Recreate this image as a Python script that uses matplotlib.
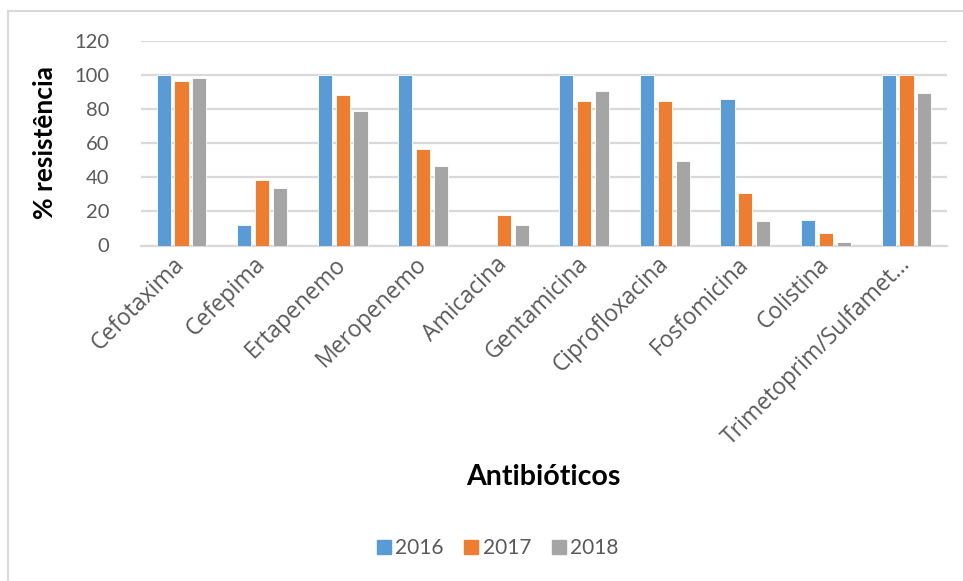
import numpy as np
import matplotlib.pyplot as plt
from matplotlib.lines import Line2D

# --- data ---
antibioticos = ['Cefotaxima', 'Cefepima', 'Ertapenemo', 'Meropenemo', 'Amicacina',
                'Gentamicina', 'Ciprofloxacina', 'Fosfomicina', 'Colistina',
                'Trimetoprim/Sulfamet\u2026']
anos = ['2016', '2017', '2018']
res_2016 = [100, 12.3, 100, 100, 0, 100, 100, 85.7, 15.2, 100]
res_2017 = [96.1, 38.3, 88.3, 56.4, 18.0, 84.6, 84.6, 30.5, 7.6, 100]
res_2018 = [98.0, 33.6, 78.7, 46.3, 12.3, 90.8, 49.8, 14.1, 1.8, 89.3]
yticks = [0, 20, 40, 60, 80, 100, 120]

cores = ['#5B9BD5', '#ED7D31', '#A5A5A5']
cinza_texto = '#595959'
grade = '#D9D9D9'

fig = plt.figure(figsize=(9.63, 5.81), dpi=100)
ax = fig.add_axes([141.2 / 963, 1 - 245.5 / 581, (946.8 - 141.2) / 963, (245.5 - 40.7) / 581])

x = np.arange(len(antibioticos))
largura = 0.175
passo = 0.222
for i, (serie, cor, ano) in enumerate(zip([res_2016, res_2017, res_2018], cores, anos)):
    ax.bar(x + (i - 1) * passo, serie, width=largura, color=cor, label=ano,
           edgecolor='white', linewidth=0.6, zorder=3)

ax.set_xlim(-0.5, len(antibioticos) - 0.5)
ax.set_ylim(0, 120)
ax.set_yticks(yticks)
ax.yaxis.grid(True, color=grade, linewidth=1.6, zorder=0)
for s in ['top', 'right', 'left']:
    ax.spines[s].set_visible(False)
ax.spines['bottom'].set_color(grade)
ax.spines['bottom'].set_linewidth(1.6)
ax.tick_params(axis='both', length=0)
ax.tick_params(axis='y', labelsize=14.5, labelcolor=cinza_texto, pad=23)
for lbl in ax.get_yticklabels():
    lbl.set_fontfamily('Lato')

ax.set_xticks(x)
ax.set_xticklabels(antibioticos, rotation=45, ha='right', va='center',
                   rotation_mode='anchor', fontsize=16.5, color=cinza_texto,
                   fontfamily='Open Sans')
ax.tick_params(axis='x', pad=11)

fig.text(45 / 963, 1 - 142 / 581, '% resistência', rotation=90, ha='center', va='center',
         fontsize=19, fontweight='bold', fontfamily='Lato', color='black')
fig.text(543.5 / 963, 1 - 477 / 581, 'Antibióticos', ha='center', va='center',
         fontsize=20.5, fontweight='bold', fontfamily='Lato', color='black')

handles = [Line2D([0], [0], marker='s', linestyle='none', markersize=10,
                  markerfacecolor=c, markeredgecolor=c) for c in cores]
leg = fig.legend(handles, anos, loc='center', bbox_to_anchor=(497 / 963, 1 - 548 / 581),
                 ncol=3, frameon=False, handlelength=0.8, handletextpad=0.17,
                 columnspacing=0.9, prop={'family': 'Lato', 'size': 15})
for t in leg.get_texts():
    t.set_color(cinza_texto)

# chart border (only top and left visible in the crop)
fig.add_artist(Line2D([8 / 963, 8 / 963], [0, 1 - 11 / 581], color=grade, linewidth=1.5,
                      transform=fig.transFigure))
fig.add_artist(Line2D([8 / 963, 1], [1 - 11 / 581, 1 - 11 / 581], color=grade, linewidth=1.5,
                      transform=fig.transFigure))

plt.savefig('out.png', dpi=100)
